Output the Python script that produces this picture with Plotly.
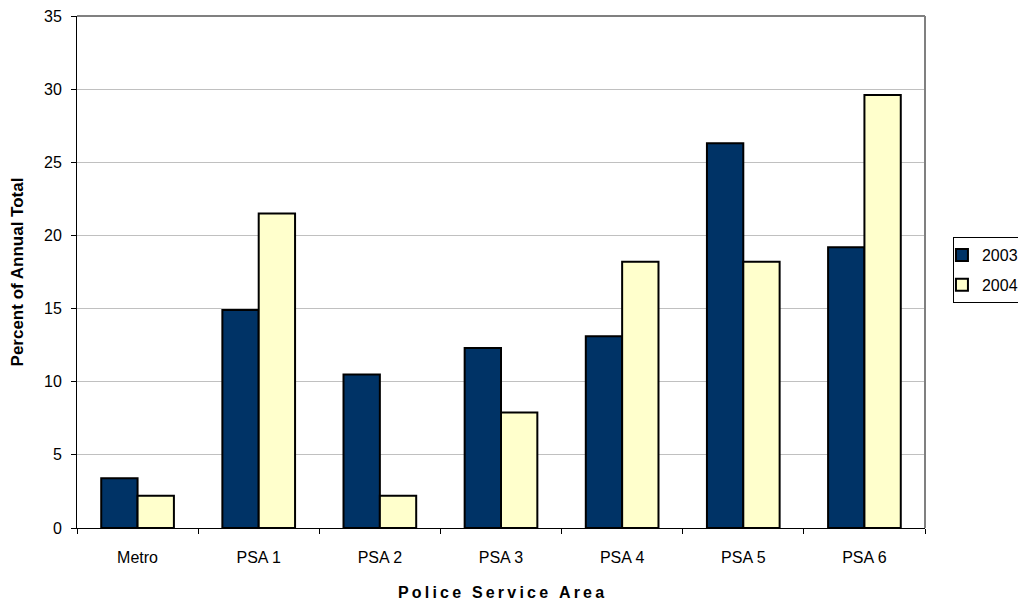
import plotly.graph_objects as go

categories = ["Metro", "PSA 1", "PSA 2", "PSA 3", "PSA 4", "PSA 5", "PSA 6"]
series_names = ["2003", "2004"]
values_2003 = [3.4, 14.9, 10.5, 12.3, 13.1, 26.3, 19.2]
values_2004 = [2.2, 21.5, 2.2, 7.9, 18.2, 18.2, 29.6]
y_ticks = [0, 5, 10, 15, 20, 25, 30, 35]
colors = ["#003366", "#FFFFCC"]

font_family = "Liberation Sans, Arial, sans-serif"

fig = go.Figure()
for name, vals, col in zip(series_names, [values_2003, values_2004], colors):
    fig.add_trace(go.Bar(
        x=categories, y=vals, name=name, legendgroup=name,
        marker=dict(color=col, line=dict(color="black", width=2)),
    ))

x_title = "\u2009".join(list("Police Service Area"))

fig.update_layout(
    width=1026, height=601,
    margin=dict(l=69, r=109, t=8, b=81, autoexpand=False),
    paper_bgcolor="white", plot_bgcolor="white",
    barmode="group", bargap=0.4, bargroupgap=0,
    font=dict(family=font_family, size=16, color="black"),
    legend=dict(
        xref="container", yref="container",
        x=0.921, xanchor="left", y=0.619, yanchor="top",
        bordercolor="black", borderwidth=1,
        font=dict(size=16), itemwidth=30, indentation=-12,
        traceorder="grouped", tracegroupgap=6,
    ),
    xaxis=dict(
        tickson="boundaries", ticks="outside", ticklen=5, tickcolor="black",
        showline=True, linecolor="black", linewidth=1,
        title=dict(text=x_title, font=dict(size=16, weight="bold"), standoff=21),
        tickfont=dict(size=16), ticklabelstandoff=15, automargin=False,
    ),
    yaxis=dict(
        range=[0, 35], tickvals=y_ticks, ticks="outside", ticklen=5, tickcolor="black",
        showline=True, linecolor="black", linewidth=1,
        showgrid=True, gridcolor="#c0c0c0", gridwidth=1,
        title=dict(text="Percent of Annual Total", font=dict(size=17, weight="bold"), standoff=16),
        tickfont=dict(size=16), zeroline=False, ticklabelstandoff=6, automargin=False,
        ticklabeloverflow="allow",
    ),
    shapes=[
        dict(type="line", xref="paper", yref="paper", x0=0, x1=1, y0=1, y1=1,
             line=dict(color="#808080", width=2)),
        dict(type="line", xref="paper", yref="paper", x0=1, x1=1, y0=0, y1=1,
             line=dict(color="#808080", width=2)),
    ],
)

fig.write_html("out.html")
